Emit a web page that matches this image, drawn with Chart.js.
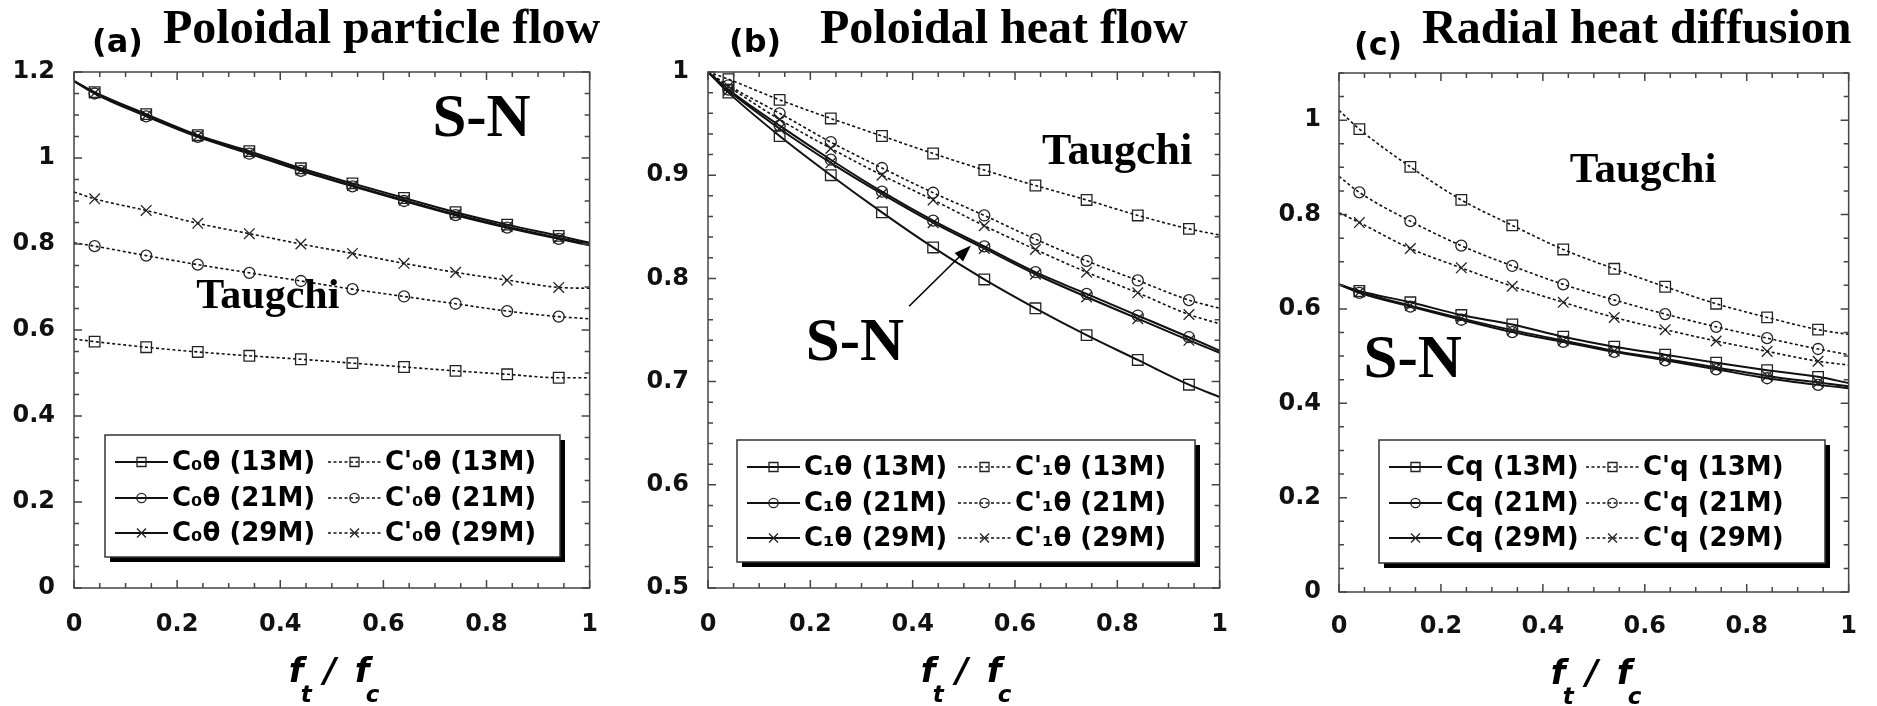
<!DOCTYPE html>
<html>
<head>
<meta charset="utf-8">
<script src="https://cdn.jsdelivr.net/npm/chart.js@4.4.1/dist/chart.umd.min.js"></script>
<style>
  body { margin: 0; background: #fff; }
  #wrap { position: relative; width: 1877px; height: 706px; overflow: hidden; background: #fff; }
  canvas { position: absolute; top: 0; }
</style>
</head>
<body>
<div id="wrap">
  <canvas id="chart_a" width="620" height="706" style="left:0px"></canvas>
  <canvas id="chart_b" width="630" height="706" style="left:620px"></canvas>
  <canvas id="chart_c" width="627" height="706" style="left:1250px"></canvas>
</div>
<script>
// f_t / f_c sample points (ends carry no marker)
const ftfc = [0, 0.04, 0.14, 0.24, 0.34, 0.44, 0.54, 0.64, 0.74, 0.84, 0.94, 1];
const xTicks = [0, 0.2, 0.4, 0.6, 0.8, 1];

// (a) poloidal particle flow
const yTicksA = [0, 0.2, 0.4, 0.6, 0.8, 1, 1.2];
const c0SN13 = [1.179, 1.153, 1.102, 1.053, 1.016, 0.976, 0.941, 0.907, 0.874, 0.845, 0.819, 0.803];
const c0SN21 = [1.179, 1.150, 1.097, 1.049, 1.010, 0.970, 0.934, 0.900, 0.867, 0.838, 0.812, 0.797];
const c0SN29 = [1.179, 1.151, 1.099, 1.051, 1.012, 0.972, 0.936, 0.902, 0.869, 0.840, 0.814, 0.799];
const c0T13 = [0.579, 0.573, 0.560, 0.549, 0.540, 0.532, 0.523, 0.514, 0.505, 0.497, 0.489, 0.489];
const c0T21 = [0.803, 0.795, 0.773, 0.752, 0.733, 0.714, 0.695, 0.678, 0.661, 0.644, 0.631, 0.626];
const c0T29 = [0.921, 0.905, 0.878, 0.848, 0.824, 0.800, 0.778, 0.755, 0.734, 0.716, 0.699, 0.697];

// (b) poloidal heat flow
const yTicksB = [0.5, 0.6, 0.7, 0.8, 0.9, 1];
const c1SN13 = [1.0, 0.980, 0.938, 0.900, 0.864, 0.830, 0.799, 0.771, 0.745, 0.721, 0.697, 0.685];
const c1SN21 = [1.0, 0.983, 0.948, 0.915, 0.884, 0.856, 0.831, 0.806, 0.785, 0.764, 0.743, 0.730];
const c1SN29 = [1.0, 0.982, 0.945, 0.912, 0.882, 0.854, 0.829, 0.804, 0.782, 0.761, 0.740, 0.728];
const c1T13 = [1.0, 0.993, 0.973, 0.955, 0.938, 0.921, 0.905, 0.890, 0.876, 0.861, 0.848, 0.842];
const c1T21 = [1.0, 0.987, 0.960, 0.932, 0.907, 0.883, 0.861, 0.838, 0.817, 0.798, 0.779, 0.771];
const c1T29 = [1.0, 0.986, 0.954, 0.926, 0.900, 0.876, 0.851, 0.828, 0.806, 0.786, 0.765, 0.756];

// (c) radial heat diffusion
const yTicksC = [0, 0.2, 0.4, 0.6, 0.8, 1];
const cqSN13 = [0.652, 0.638, 0.614, 0.587, 0.567, 0.541, 0.520, 0.503, 0.486, 0.470, 0.456, 0.443];
const cqSN21 = [0.652, 0.634, 0.605, 0.577, 0.551, 0.530, 0.509, 0.491, 0.472, 0.453, 0.439, 0.432];
const cqSN29 = [0.652, 0.636, 0.607, 0.580, 0.555, 0.533, 0.511, 0.494, 0.476, 0.458, 0.444, 0.436];
const cqT13 = [1.021, 0.981, 0.901, 0.831, 0.777, 0.726, 0.685, 0.647, 0.611, 0.582, 0.556, 0.546];
const cqT21 = [0.881, 0.847, 0.786, 0.734, 0.691, 0.652, 0.619, 0.589, 0.562, 0.538, 0.515, 0.503];
const cqT29 = [0.804, 0.783, 0.728, 0.687, 0.648, 0.614, 0.582, 0.556, 0.532, 0.510, 0.489, 0.481];

const markerSize = { rect: 7.5, circle: 5.5, crossRot: 7.5 };

function series(label, ys, marker, dashed) {
    return {
        label: label,
        data: ftfc.map((x, i) => ({ x: x, y: ys[i] })),
        borderColor: '#111',
        borderWidth: dashed ? 1.6 : 2,
        borderDash: dashed ? [3, 2.5] : [],
        pointStyle: marker,
        pointRadius: ctx => (ctx.dataIndex === 0 || ctx.dataIndex === ftfc.length - 1) ? 0 : markerSize[marker],
        pointBorderColor: '#222',
        pointBorderWidth: 1.3,
        pointBackgroundColor: 'rgba(0,0,0,0)',
        cubicInterpolationMode: 'monotone',
        fill: false
    };
}

// box with inward ticks on all four sides
const framePlugin = {
    id: 'frame',
    afterDatasetsDraw(chart, args, o) {
        const { ctx, chartArea: a, scales: { x, y } } = chart;
        ctx.save();
        ctx.strokeStyle = '#444';
        ctx.lineWidth = 1.5;
        ctx.strokeRect(a.left, a.top, a.width, a.height);
        ctx.beginPath();
        for (let k = 0; k <= Math.round((x.max - x.min) / o.xMinor); k++) {
            const v = x.min + k * o.xMinor;
            const len = (k % Math.round(o.xMajor / o.xMinor) === 0) ? 8 : 5;
            const px = x.getPixelForValue(v);
            ctx.moveTo(px, a.bottom); ctx.lineTo(px, a.bottom - len);
            ctx.moveTo(px, a.top); ctx.lineTo(px, a.top + len);
        }
        for (let k = 0; k <= Math.round((y.max - y.min) / o.yMinor); k++) {
            const v = y.min + k * o.yMinor;
            const len = (k % Math.round(o.yMajor / o.yMinor) === 0) ? 8 : 5;
            const py = y.getPixelForValue(v);
            ctx.moveTo(a.left, py); ctx.lineTo(a.left + len, py);
            ctx.moveTo(a.right, py); ctx.lineTo(a.right - len, py);
        }
        ctx.stroke();
        ctx.restore();
    }
};

// panel letter, heading, notes, arrow, axis title and the legend box
const decoPlugin = {
    id: 'deco',
    afterDraw(chart, args, o) {
        const { ctx, chartArea: a, scales: { x, y } } = chart;
        ctx.save();
        ctx.fillStyle = '#000';
        ctx.textAlign = 'left';
        ctx.textBaseline = 'alphabetic';

        ctx.font = 'bold 32px "DejaVu Sans"';
        ctx.fillText(o.tag, a.left + o.tagX, a.top + o.tagY);
        ctx.font = 'bold 48px "Liberation Serif"';
        ctx.fillText(o.title, a.left + o.titleX, 43);

        o.notes.forEach(n => {
            ctx.font = 'bold ' + n.size + 'px "Liberation Serif"';
            ctx.fillText(n.text, x.getPixelForValue(n.x), y.getPixelForValue(n.y));
        });

        if (o.arrow) {
            const x0 = x.getPixelForValue(o.arrow.x0), y0 = y.getPixelForValue(o.arrow.y0);
            const x1 = x.getPixelForValue(o.arrow.x1), y1 = y.getPixelForValue(o.arrow.y1);
            const ang = Math.atan2(y1 - y0, x1 - x0);
            ctx.strokeStyle = '#000';
            ctx.lineWidth = 1.6;
            ctx.beginPath();
            ctx.moveTo(x0, y0);
            ctx.lineTo(x1 - 12 * Math.cos(ang), y1 - 12 * Math.sin(ang));
            ctx.stroke();
            ctx.beginPath();
            ctx.moveTo(x1, y1);
            ctx.lineTo(x1 - 17 * Math.cos(ang) + 6 * Math.sin(ang), y1 - 17 * Math.sin(ang) - 6 * Math.cos(ang));
            ctx.lineTo(x1 - 17 * Math.cos(ang) - 6 * Math.sin(ang), y1 - 17 * Math.sin(ang) + 6 * Math.cos(ang));
            ctx.closePath();
            ctx.fill();
        }

        // f_t / f_c
        const cx = (a.left + a.right) / 2, base = a.bottom + o.xTitleDy;
        ctx.font = 'italic bold 34px "DejaVu Sans"';
        ctx.fillText('f', cx - 43, base);
        ctx.fillText('/', cx - 8, base);
        ctx.fillText('f', cx + 23, base);
        ctx.font = 'italic bold 23px "DejaVu Sans"';
        ctx.fillText('t', cx - 31, base + 20);
        ctx.fillText('c', cx + 34, base + 20);

        // legend: solid S-N column, dashed Taugchi column
        const L = o.legend;
        const bx = a.left + L.dx, by = a.top + L.dy;
        ctx.fillStyle = '#000';
        ctx.fillRect(bx + 5, by + 5, L.w, L.h);
        ctx.fillStyle = '#fff';
        ctx.fillRect(bx, by, L.w, L.h);
        ctx.strokeStyle = '#333';
        ctx.lineWidth = 1.5;
        ctx.strokeRect(bx, by, L.w, L.h);
        chart.data.datasets.forEach((ds, i) => {
            const col = Math.floor(i / 3), row = i % 3;
            const sx = bx + L.cols[col], cy = by + L.rows[row];
            ctx.save();
            ctx.strokeStyle = ds.borderColor;
            ctx.lineWidth = ds.borderWidth;
            ctx.setLineDash(ds.borderDash);
            ctx.beginPath();
            ctx.moveTo(sx, cy);
            ctx.lineTo(sx + 53, cy);
            ctx.stroke();
            ctx.restore();
            ctx.strokeStyle = ds.pointBorderColor;
            ctx.fillStyle = 'rgba(0,0,0,0)';
            ctx.lineWidth = ds.pointBorderWidth;
            Chart.helpers.drawPoint(ctx, {
                pointStyle: ds.pointStyle,
                radius: markerSize[ds.pointStyle] * 0.85,
                borderWidth: ds.pointBorderWidth,
                rotation: 0
            }, sx + 26.5, cy);
            ctx.fillStyle = '#000';
            ctx.font = 'bold 26px "DejaVu Sans"';
            ctx.textBaseline = 'middle';
            ctx.fillText(ds.label, sx + 57, cy + 1);
            ctx.textBaseline = 'alphabetic';
        });
        ctx.restore();
    }
};

const tickFont = { family: 'DejaVu Sans', size: 24, weight: 'bold' };
const plainNumber = v => String(Number(v.toFixed(2)));

function makePanel(id, p) {
    return new Chart(document.getElementById(id), {
        type: 'line',
        data: { datasets: p.datasets },
        options: {
            responsive: false,
            animation: false,
            devicePixelRatio: 1,
            layout: { padding: { left: 0, right: p.padRight, top: p.padTop, bottom: 0 } },
            plugins: {
                legend: { display: false },
                tooltip: { enabled: false },
                frame: p.frame,
                deco: p.deco
            },
            scales: {
                x: {
                    type: 'linear',
                    min: 0, max: 1,
                    grid: { display: false, drawTicks: false },
                    border: { display: false },
                    afterBuildTicks: s => { s.ticks = xTicks.map(v => ({ value: v })); },
                    afterFit: s => { s.height = p.xHeight; },
                    ticks: { font: tickFont, color: '#111', padding: p.xPad, maxRotation: 0, autoSkip: false, callback: plainNumber }
                },
                y: {
                    type: 'linear',
                    min: p.yMin, max: p.yMax,
                    grid: { display: false, drawTicks: false },
                    border: { display: false },
                    afterBuildTicks: s => { s.ticks = p.yTicks.map(v => ({ value: v })); },
                    afterFit: s => { s.width = p.yWidth; },
                    ticks: { font: tickFont, color: '#111', padding: p.yPad, autoSkip: false, callback: plainNumber }
                }
            }
        },
        plugins: [framePlugin, decoPlugin]
    });
}

var chartA = makePanel('chart_a', {
    datasets: [
        series('C\u2080\u03b8 (13M)', c0SN13, 'rect', false),
        series('C\u2080\u03b8 (21M)', c0SN21, 'circle', false),
        series('C\u2080\u03b8 (29M)', c0SN29, 'crossRot', false),
        series("C'\u2080\u03b8 (13M)", c0T13, 'rect', true),
        series("C'\u2080\u03b8 (21M)", c0T21, 'circle', true),
        series("C'\u2080\u03b8 (29M)", c0T29, 'crossRot', true)
    ],
    yMin: 0, yMax: 1.2, yTicks: yTicksA,
    yWidth: 74, padRight: 28, padTop: 72, xHeight: 118, xPad: 22, yPad: 19,
    frame: { xMajor: 0.2, xMinor: 0.05, yMajor: 0.2, yMinor: 0.05 },
    deco: {
        tag: '(a)', tagX: 18, tagY: -20,
        title: 'Poloidal particle flow', titleX: 89,
        notes: [
            { text: 'S-N', x: 0.695, y: 1.051, size: 61 },
            { text: 'Taugchi', x: 0.237, y: 0.651, size: 42 }
        ],
        xTitleDy: 94,
        legend: { dx: 31, dy: 363, w: 455, h: 122, cols: [10, 223], rows: [27, 63, 98] }
    }
});

var chartB = makePanel('chart_b', {
    datasets: [
        series('C\u2081\u03b8 (13M)', c1SN13, 'rect', false),
        series('C\u2081\u03b8 (21M)', c1SN21, 'circle', false),
        series('C\u2081\u03b8 (29M)', c1SN29, 'crossRot', false),
        series("C'\u2081\u03b8 (13M)", c1T13, 'rect', true),
        series("C'\u2081\u03b8 (21M)", c1T21, 'circle', true),
        series("C'\u2081\u03b8 (29M)", c1T29, 'crossRot', true)
    ],
    yMin: 0.5, yMax: 1, yTicks: yTicksB,
    yWidth: 88, padRight: 23, padTop: 72, xHeight: 118, xPad: 22, yPad: 19,
    frame: { xMajor: 0.2, xMinor: 0.05, yMajor: 0.1, yMinor: 0.02 },
    deco: {
        tag: '(b)', tagX: 21, tagY: -20,
        title: 'Poloidal heat flow', titleX: 112,
        notes: [
            { text: 'S-N', x: 0.191, y: 0.721, size: 61 },
            { text: 'Taugchi', x: 0.653, y: 0.911, size: 44 }
        ],
        arrow: { x0: 0.393, y0: 0.773, x1: 0.514, y1: 0.832 },
        xTitleDy: 94,
        legend: { dx: 29, dy: 368, w: 458, h: 122, cols: [10, 221], rows: [27, 63, 98] }
    }
});

var chartC = makePanel('chart_c', {
    datasets: [
        series('Cq (13M)', cqSN13, 'rect', false),
        series('Cq (21M)', cqSN21, 'circle', false),
        series('Cq (29M)', cqSN29, 'crossRot', false),
        series("C'q (13M)", cqT13, 'rect', true),
        series("C'q (21M)", cqT21, 'circle', true),
        series("C'q (29M)", cqT29, 'crossRot', true)
    ],
    yMin: 0, yMax: 1.1, yTicks: yTicksC,
    yWidth: 89, padRight: 19, padTop: 73, xHeight: 114, xPad: 20, yPad: 18,
    frame: { xMajor: 0.2, xMinor: 0.05, yMajor: 0.2, yMinor: 0.05 },
    deco: {
        tag: '(c)', tagX: 15, tagY: -18,
        title: 'Radial heat diffusion', titleX: 83,
        notes: [
            { text: 'Taugchi', x: 0.453, y: 0.869, size: 43 },
            { text: 'S-N', x: 0.048, y: 0.456, size: 61 }
        ],
        xTitleDy: 92,
        legend: { dx: 40, dy: 367, w: 446, h: 123, cols: [10, 207], rows: [27, 63, 98] }
    }
});
</script>
</body>
</html>
